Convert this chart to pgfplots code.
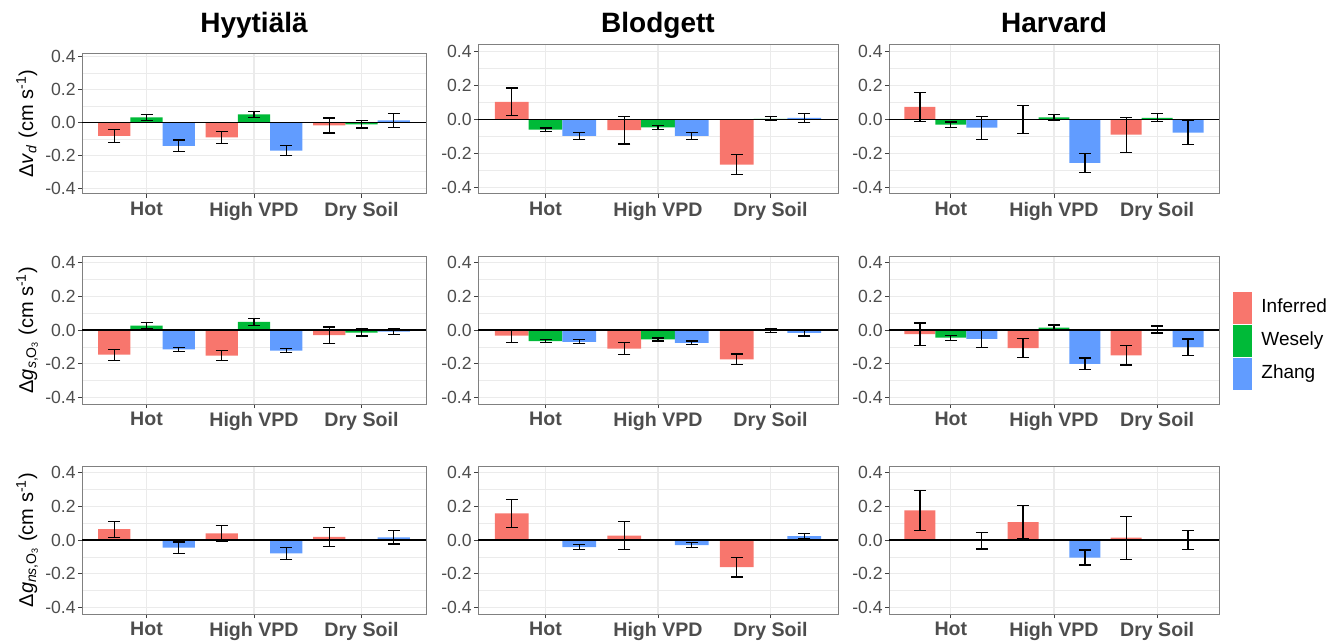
\documentclass[border=0pt]{standalone}
\usepackage{fontspec}
\setmainfont{Liberation Sans}
\usepackage{pgfplots}
\pgfplotsset{compat=1.18}
\usepackage{pgfplotstable}

\definecolor{infc}{HTML}{F8766D}
\definecolor{wesc}{HTML}{00BA38}
\definecolor{zhac}{HTML}{619CFF}
\definecolor{gridc}{HTML}{EBEBEB}
\definecolor{tickc}{HTML}{4D4D4D}
\definecolor{framec}{HTML}{808080}

% value and half error bar per scenario
\pgfplotstableread{
x inf infe wes wese zha zhae
1 -0.082 0.0375 0.031 0.0195 -0.143 0.036
2 -0.090 0.036 0.050 0.019 -0.171 0.032
3 -0.018 0.046 -0.012 0.022 0.013 0.044
}\tabHyyVd
\pgfplotstableread{
x inf infe wes wese zha zhae
1 0.104 0.082 -0.060 0.010 -0.096 0.020
2 -0.063 0.082 -0.046 0.011 -0.096 0.020
3 -0.266 0.058 0.004 0.012 0.009 0.027
}\tabBloVd
\pgfplotstableread{
x inf infe wes wese zha zhae
1 0.074 0.087 -0.031 0.016 -0.048 0.068
2 0.001 0.083 0.012 0.018 -0.256 0.056
3 -0.090 0.104 0.010 0.024 -0.078 0.072
}\tabHarVd
\pgfplotstableread{
x inf infe wes wese zha zhae
1 -0.147 0.033 0.026 0.018 -0.115 0.013
2 -0.152 0.030 0.049 0.020 -0.123 0.013
3 -0.031 0.049 -0.015 0.021 -0.009 0.019
}\tabHyyGs
\pgfplotstableread{
x inf infe wes wese zha zhae
1 -0.034 0.038 -0.066 0.009 -0.070 0.012
2 -0.110 0.037 -0.056 0.009 -0.076 0.011
3 -0.175 0.032 -0.004 0.012 -0.017 0.019
}\tabBloGs
\pgfplotstableread{
x inf infe wes wese zha zhae
1 -0.025 0.067 -0.046 0.015 -0.053 0.049
2 -0.108 0.057 0.014 0.016 -0.201 0.034
3 -0.151 0.057 0.003 0.021 -0.102 0.049
}\tabHarGs
\pgfplotstableread{
x inf infe wes wese zha zhae
1 0.064 0.048 0 0 -0.046 0.034
2 0.039 0.045 0 0 -0.080 0.034
3 0.018 0.056 0 0 0.016 0.040
}\tabHyyGns
\pgfplotstableread{
x inf infe wes wese zha zhae
1 0.159 0.083 0 0 -0.042 0.014
2 0.026 0.082 0 0 -0.031 0.015
3 -0.161 0.059 0 0 0.023 0.015
}\tabBloGns
\pgfplotstableread{
x inf infe wes wese zha zhae
1 0.176 0.118 0 0 -0.004 0.050
2 0.107 0.099 0 0 -0.104 0.045
3 0.014 0.128 0 0 0 0.056
}\tabHarGns

\newcommand{\subOthree}{O\raisebox{-0.25ex}{\fontsize{4.5}{5}\selectfont 3}}

\pgfplotsset{
  panel/.style={
    scale only axis, anchor=north west,
    xmin=0.4, xmax=3.6, ymin=-0.44, ymax=0.44,
    xtick={1,2,3}, xticklabels={Hot,High VPD,Dry Soil},
    ytick={-0.4,-0.2,0,0.2,0.4}, yticklabels={-0.4,-0.2,0.0,0.2,0.4},
    minor ytick={-0.3,-0.1,0.1,0.3},
    xtick pos=bottom, ytick pos=left,
    xmajorgrids, ymajorgrids, yminorgrids,
    major grid style={gridc, line width=0.55pt},
    minor grid style={gridc, line width=0.3pt},
    axis line style={framec, line width=0.5pt},
    tick align=outside, major tick length=2pt, minor tick length=0pt,
    tick style={black!75, line width=0.5pt},
    xticklabel style={font=\bfseries\fontsize{9.8}{11}\selectfont, text=tickc, yshift=1.5pt},
    yticklabel style={font=\fontsize{8.8}{10}\selectfont, text=tickc, inner xsep=1pt},
    every axis y label/.style={at={(axis description cs:-0.1424,0.5)}, rotate=90, anchor=base, font=\fontsize{10}{12}\selectfont},
    every axis title/.style={at={(0.5,1)}, anchor=base, font=\bfseries\fontsize{14}{16}\selectfont},
    legend image code/.code={\fill[#1] (0pt,-8pt) rectangle (9.5pt,8pt);},
  },
  mybar/.style={ybar, bar width=0.3, bar shift=0pt, draw=none, fill=#1,
    error bars/.cd, y dir=both, y explicit,
    error bar style={black, line width=0.6pt},
    error mark options={black, line width=0.6pt, mark size=3pt, rotate=90}},
}

\newcommand{\threebars}[1]{%
  \addplot[mybar=infc] table[x expr=\thisrow{x}-0.3, y=inf, y error=infe] {#1};
  \addplot[mybar=wesc] table[x=x, y=wes, y error=wese] {#1};
  \addplot[mybar=zhac] table[x expr=\thisrow{x}+0.3, y=zha, y error=zhae] {#1};
  \addplot[black, line width=0.7pt, forget plot] coordinates {(0.4,0) (3.6,0)};
}

\begin{document}
\begin{tikzpicture}
\path[use as bounding box] (0pt,0pt) rectangle (668pt,-321pt);

% row 1: deposition velocity
\begin{axis}[panel, at={(41pt,-26.5pt)}, width=172pt, height=70.5pt,
  ymin=-0.436, ymax=0.424, title=Hyytiälä, title style={yshift=10pt},
  ylabel={Δ\textit{v}\textsubscript{\textit{d}} (cm s\textsuperscript{-1})}]
\threebars{\tabHyyVd}
\end{axis}
\begin{axis}[panel, at={(239pt,-22.5pt)}, width=180pt, height=74.5pt,
  title=Blodgett, title style={yshift=6pt}]
\threebars{\tabBloVd}
\end{axis}
\begin{axis}[panel, at={(444.5pt,-22.5pt)}, width=165pt, height=74.5pt,
  title=Harvard, title style={yshift=6pt}]
\threebars{\tabHarVd}
\end{axis}

% row 2: stomatal conductance
\begin{axis}[panel, at={(41pt,-128pt)}, width=172pt, height=74pt,
  ylabel={Δ\textit{g}\textsubscript{\textit{s},\subOthree} (cm s\textsuperscript{-1})}]
\threebars{\tabHyyGs}
\end{axis}
\begin{axis}[panel, at={(239pt,-128pt)}, width=180pt, height=74pt]
\threebars{\tabBloGs}
\end{axis}
\begin{axis}[panel, at={(444.5pt,-128pt)}, width=165pt, height=74pt,
  legend style={at={(1,0.5)}, anchor=west, xshift=7pt, yshift=-5.25pt,
    draw=none, fill=none, inner sep=0pt, row sep=0.5pt,
    font=\fontsize{9.5}{11}\selectfont, cells={anchor=west},
    nodes={inner sep=0pt},
    /tikz/every odd column/.append style={column sep=4.5pt}}]
\threebars{\tabHarGs}
\legend{Inferred,Wesely,Zhang}
\end{axis}

% row 3: non-stomatal conductance
\begin{axis}[panel, at={(41pt,-233pt)}, width=172pt, height=74pt,
  ylabel={Δ\textit{g}\textsubscript{\textit{ns},\subOthree} (cm s\textsuperscript{-1})}]
\threebars{\tabHyyGns}
\end{axis}
\begin{axis}[panel, at={(239pt,-233pt)}, width=180pt, height=74pt]
\threebars{\tabBloGns}
\end{axis}
\begin{axis}[panel, at={(444.5pt,-233pt)}, width=165pt, height=74pt]
\threebars{\tabHarGns}
\end{axis}
\end{tikzpicture}
\end{document}
